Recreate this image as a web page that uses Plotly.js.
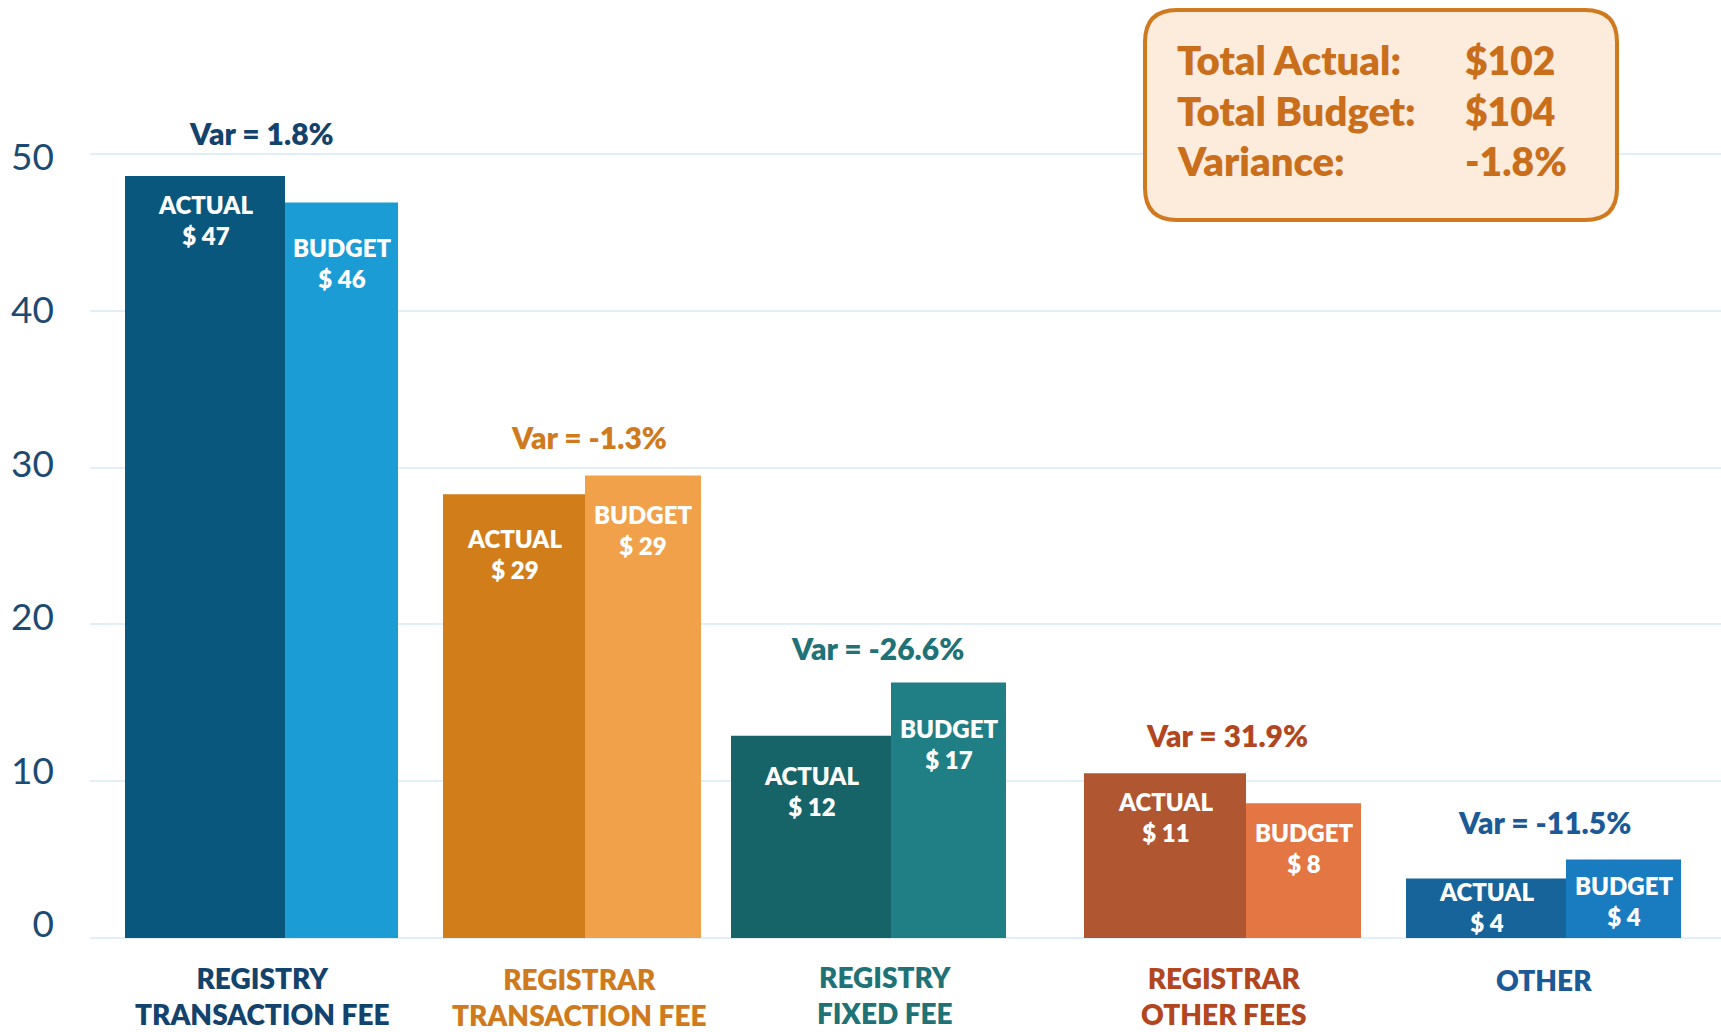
<!DOCTYPE html>
<html>
<head>
<meta charset="utf-8">
<script src="https://cdn.plot.ly/plotly-3.0.1.min.js"></script>
<style>html,body{margin:0;padding:0;background:#fff;}#chart{width:1721px;height:1032px;}</style>
</head>
<body>
<div id="chart"></div>
<script>
// ---- data ----
const categories = ['REGISTRY<br>TRANSACTION FEE', 'REGISTRAR<br>TRANSACTION FEE', 'REGISTRY<br>FIXED FEE', 'REGISTRAR<br>OTHER FEES', 'OTHER'];
const actualValues = [48.6, 28.3, 12.9, 10.5, 3.8];
const budgetValues = [46.9, 29.5, 16.3, 8.6, 5.0];
const actualLabels = ['$ 47', '$ 29', '$ 12', '$ 11', '$ 4'];
const budgetLabels = ['$ 46', '$ 29', '$ 17', '$ 8', '$ 4'];
const varianceLabels = ['Var = 1.8%', 'Var = -1.3%', 'Var = -26.6%', 'Var = 31.9%', 'Var = -11.5%'];
const summaryLabels = ['Total Actual:', 'Total Budget:', 'Variance:'];
const summaryValues = ['$102', '$104', '-1.8%'];
const yTicks = [0, 10, 20, 30, 40, 50];

// ---- layout / style constants ----
const W = 1721, H = 1032;
const M = {l: 90, r: 0, t: 20, b: 94};
const plotW = W - M.l - M.r, plotH = H - M.t - M.b;
const yMax = plotH / 15.68;
// tick labels in the reference sit on a slightly tighter scale than the gridlines
const lblZeroPx = 924, lblPxPerUnit = 15.34;
const y2Range = [-(M.t + plotH - lblZeroPx) / lblPxPerUnit, (lblZeroPx - M.t) / lblPxPerUnit];
const splitX = [285, 585, 891, 1246, 1566];      // boundary between actual & budget bar (px)
const actualW = [160, 142, 160, 162, 160];
const budgetW = [113, 116, 115, 115, 115];
const varCenterX = [261, 589, 877, 1227, 1544];
const varLift = [43, 38, 34, 38, 38];
const catCenterX = [262, 579, 885, 1224, 1544];
const catCenterY = [996, 997, 995, 996, 980];
const actualColors = ['#0a577e', '#d17d1a', '#176468', '#b05731', '#17649b'];
const budgetColors = ['#1b9cd5', '#f0a14a', '#1f7f85', '#e47644', '#1a7cc0'];
const groupColors = ['#13436c', '#cf7a1d', '#1f7276', '#b1461f', '#1b5a96'];
const actualDrop = [21, 37, 32, 21, 6];
const budgetDrop = [37, 32, 39, 22, 18];
const FONT = 'Lato, "Source Sans Pro", "Noto Sans", sans-serif';
const HEAVY = 800;

const px2x = px => (px - M.l) / plotW;
const py2y = py => (H - M.b - py) / plotH;

const actualX = splitX.map((s, i) => s - actualW[i] / 2);
const budgetX = splitX.map((s, i) => s + budgetW[i] / 2);

const traces = [
  {type: 'bar', x: actualX, y: actualValues, width: actualW, marker: {color: actualColors, line: {width: 0}}, hoverinfo: 'skip', showlegend: false},
  {type: 'bar', x: budgetX, y: budgetValues, width: budgetW, marker: {color: budgetColors, line: {width: 0}}, hoverinfo: 'skip', showlegend: false},
  {type: 'scatter', mode: 'markers', x: [], y: [], yaxis: 'y2', hoverinfo: 'skip', showlegend: false}
];

const annotations = [];
categories.forEach((c, i) => {
  annotations.push({x: actualX[i], y: actualValues[i], xref: 'x', yref: 'y', yanchor: 'top', xanchor: 'center',
    yshift: -(actualDrop[i] - 9), showarrow: false, align: 'center',
    text: 'ACTUAL<br>' + actualLabels[i], font: {family: FONT, size: 24, weight: HEAVY, color: '#ffffff'}});
  annotations.push({x: budgetX[i], y: budgetValues[i], xref: 'x', yref: 'y', yanchor: 'top', xanchor: 'center',
    yshift: -(budgetDrop[i] - 9), showarrow: false, align: 'center',
    text: 'BUDGET<br>' + budgetLabels[i], font: {family: FONT, size: 24, weight: HEAVY, color: '#ffffff'}});
  annotations.push({x: varCenterX[i], y: Math.max(actualValues[i], budgetValues[i]), xref: 'x', yref: 'y',
    yanchor: 'middle', xanchor: 'center', yshift: varLift[i], showarrow: false,
    text: varianceLabels[i], font: {family: FONT, size: 30, weight: HEAVY, color: groupColors[i]}});
  annotations.push({x: catCenterX[i], y: py2y(catCenterY[i]), xref: 'x', yref: 'paper',
    yanchor: 'middle', xanchor: 'center', showarrow: false, align: 'center',
    text: c, font: {family: FONT, size: 28, weight: HEAVY, color: groupColors[i]}});
});

// summary box
const boxL = 1145, boxR = 1617, boxT = 10, boxB = 220, rad = 32;
const rx = rad / plotW, ry = rad / plotH;
const bl = px2x(boxL), br = px2x(boxR), bt = py2y(boxT), bb = py2y(boxB);
const boxPath = `M ${bl + rx} ${bt} L ${br - rx} ${bt} Q ${br} ${bt} ${br} ${bt - ry} L ${br} ${bb + ry} Q ${br} ${bb} ${br - rx} ${bb} L ${bl + rx} ${bb} Q ${bl} ${bb} ${bl} ${bb + ry} L ${bl} ${bt - ry} Q ${bl} ${bt} ${bl + rx} ${bt} Z`;
const shapes = [{type: 'path', xref: 'paper', yref: 'paper', path: boxPath, fillcolor: '#fdebdc', line: {color: '#d07a1f', width: 4}, layer: 'above'}];
const rowY = [60, 111, 161];
summaryLabels.forEach((s, i) => {
  annotations.push({x: px2x(1175), y: py2y(rowY[i]), xref: 'paper', yref: 'paper', xanchor: 'left', yanchor: 'middle',
    showarrow: false, text: s, font: {family: FONT, size: 40, weight: HEAVY, color: '#c96f1c'}});
  annotations.push({x: px2x(1463), y: py2y(rowY[i]), xref: 'paper', yref: 'paper', xanchor: 'left', yanchor: 'middle',
    showarrow: false, text: summaryValues[i], font: {family: FONT, size: 39, weight: HEAVY, color: '#c96f1c'}});
});

const layout = {
  width: W, height: H,
  margin: M,
  paper_bgcolor: '#ffffff', plot_bgcolor: '#ffffff',
  showlegend: false,
  barmode: 'overlay',
  xaxis: {range: [M.l, W - M.r], showgrid: false, zeroline: false, showticklabels: false, ticks: '', fixedrange: true},
  yaxis: {range: [0, yMax], tickvals: yTicks, showticklabels: false, showgrid: true, gridcolor: '#e1eff9', gridwidth: 2,
    zeroline: true, zerolinecolor: '#e1eff9', zerolinewidth: 2, ticks: '', fixedrange: true},
  yaxis2: {overlaying: 'y', side: 'left', range: y2Range, tickvals: yTicks, ticktext: yTicks.map(String),
    showgrid: false, zeroline: false, showline: false, ticks: '', ticklabelstandoff: 35,
    tickfont: {family: FONT, size: 37, color: '#1c4a72'}, fixedrange: true},
  annotations: annotations,
  shapes: shapes
};

Plotly.newPlot('chart', traces, layout, {displayModeBar: false, staticPlot: true});
</script>
</body>
</html>
